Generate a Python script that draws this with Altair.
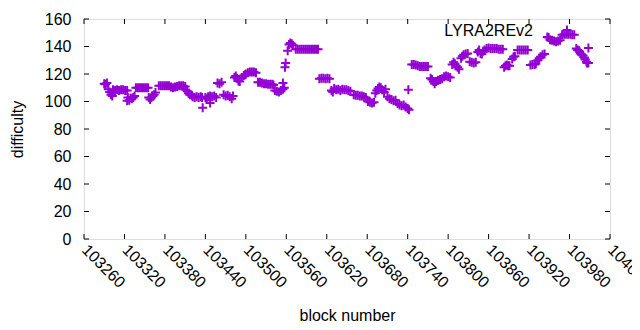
import altair as alt
import pandas as pd

# block numbers and difficulty of the LYRA2REv2 blocks
blocks = [
    103290, 103292, 103294, 103296, 103298, 103300, 103302,
    103303, 103306, 103309, 103312, 103315, 103318, 103321, 103324,
    103324, 103325, 103327, 103329, 103331, 103333, 103335,
    103337, 103340, 103343, 103346, 103349, 103352, 103355,
    103356, 103358, 103360, 103362, 103364, 103366,
    103371, 103374, 103377, 103380, 103383, 103386, 103389, 103392, 103395, 103398, 103401, 103404, 103407, 103410,
    103411, 103413, 103415, 103417, 103420,
    103421, 103424, 103427, 103430, 103433, 103435, 103436,
    103440, 103442, 103444, 103447, 103450, 103453, 103456, 103447,
    103458, 103461, 103464,
    103467, 103470, 103473, 103476, 103479, 103481,
    103483, 103485, 103487, 103489, 103491, 103494, 103497, 103499,
    103500, 103503, 103506, 103509, 103512, 103515,
    103518, 103521, 103524, 103527, 103530, 103533, 103536, 103539, 103541,
    103543, 103546, 103549, 103552, 103555, 103557, 103555,
    103558, 103559, 103562,
    103564, 103566, 103568, 103570,
    103574, 103577, 103580, 103583, 103586, 103589, 103592, 103595, 103598, 103601, 103604, 103607,
    103609, 103612, 103615, 103618, 103621, 103624,
    103627, 103629, 103631, 103634, 103637, 103640, 103643, 103646, 103649, 103652, 103655,
    103660, 103663, 103666, 103669, 103672, 103675, 103678,
    103681, 103684, 103687, 103690,
    103692, 103694, 103696, 103698, 103700, 103702, 103705, 103707,
    103710, 103713, 103716, 103719, 103722,
    103725, 103728, 103731, 103734, 103737, 103740, 103742, 103741,
    103746, 103749, 103752, 103755, 103758, 103761, 103764, 103767, 103770,
    103774, 103776, 103778, 103780, 103782, 103785, 103788, 103791, 103794, 103797, 103800, 103803,
    103806, 103808, 103810, 103812, 103814, 103816,
    103819, 103821, 103823, 103826, 103829,
    103832, 103835, 103838, 103841,
    103844, 103846, 103848, 103850, 103852, 103854,
    103857, 103860, 103863, 103866, 103869, 103872, 103875, 103878, 103881,
    103883, 103885, 103887, 103889, 103891,
    103895, 103897, 103899,
    103903, 103906, 103909, 103912, 103915, 103918,
    103922, 103925, 103928, 103930,
    103933, 103935, 103937, 103940, 103943,
    103947, 103949, 103951, 103954, 103957, 103960, 103963, 103966,
    103969, 103972, 103975, 103978, 103981, 103984, 103987,
    103990, 103992, 103994,
    103996, 103998, 104000, 104002,
    104003, 104005, 104006, 104008, 104008,
]
difficulty = [
    113, 112.5, 113.5, 109, 107, 105, 104,
    108.5, 108, 108.5, 108, 108.5, 108.5, 108, 108,
    100.5, 103, 101, 102.5, 102, 103, 104,
    110, 110, 110, 110, 110, 110, 110,
    103, 101.5, 103, 104, 105, 106.5,
    111.5, 111.5, 111.5, 111.5, 111.5, 111.5, 110.5, 110, 110.5, 111, 111.5, 111.5, 111.5, 111,
    108.5, 107.5, 106, 105, 104.5,
    103.5, 103, 103.5, 103, 103.5, 103, 95.5,
    103, 102, 103.5, 104, 103.5, 104, 103, 99,
    113.5, 113, 114,
    105, 104, 104.5, 103.5, 102, 104,
    117.5, 118.5, 117, 115, 114.5, 117.5, 119, 119.5,
    120, 121, 121.5, 121.5, 121.5, 121,
    114, 114, 113.5, 113, 113, 112.5, 112.5, 112.5, 112,
    108, 107.5, 107, 108, 109, 110, 113.5,
    125, 128, 137,
    141.5, 142.5, 142, 141,
    138, 138, 138, 138, 138, 138, 138, 138, 138, 138, 138, 138,
    116.5, 117, 117, 116.5, 117, 116.5,
    108, 107, 109.5, 108.5, 109, 108, 109, 108.5, 108.5, 108, 107.5,
    105, 104.5, 104.5, 104, 104, 103.5, 103,
    100, 99.5, 99, 99.5,
    106, 108, 109.5, 110.5, 110, 108.5, 107, 109,
    103.5, 102, 101.5, 100.5, 101,
    98.5, 97.5, 97, 97.5, 96, 95, 94, 108.5,
    127, 127, 126.5, 126, 125.5, 125.5, 125.5, 125.5, 125.5,
    117, 116, 114.5, 113, 114.5, 115.5, 116, 116.5, 118, 118.5, 118, 117.5,
    127, 128.5, 127.5, 126, 125, 123.5,
    131.5, 133, 134, 134.5, 135,
    129, 128.5, 128, 128.5,
    136, 137.5, 135, 134.5, 136.5, 137.5,
    138.5, 139, 138.5, 138.5, 138.5, 138.5, 138, 138, 138,
    125, 126, 126.5, 126, 126,
    131, 132.5, 133,
    137.5, 137.5, 137.5, 137.5, 137.5, 137.5,
    126.5, 127, 127, 127.5,
    130, 131.5, 132.5, 134, 134.5,
    147, 146.5, 145, 144.5, 144, 143.5, 144, 144.5,
    148.5, 149, 149, 149, 149, 148.5, 148.5,
    138.5, 137.5, 137,
    135, 134, 133.5, 132,
    130.5, 129, 128, 139, 128,
]

y_ticks = [0, 20, 40, 60, 80, 100, 120, 140, 160]
x_ticks = [103260, 103320, 103380, 103440, 103500, 103560, 103620,
           103680, 103740, 103800, 103860, 103920, 103980, 104040]
series_name = "LYRA2REv2"

COLOR = "#9400D3"
FONT = "Liberation Sans"
FS = 16
W, H = 526, 220
PLUS = "M-1,0L1,0M0,-1L0,1"

df = pd.DataFrame({"block": blocks, "difficulty": difficulty})
xs = alt.Scale(domain=[x_ticks[0], x_ticks[-1]], nice=False, zero=False)
ys = alt.Scale(domain=[y_ticks[0], y_ticks[-1]], nice=False)

x_axis = alt.Axis(
    values=x_ticks, format="d", labelAngle=45, labelAlign="left",
    labelBaseline="middle", labelPadding=8, labelFontSize=FS, labelFont=FONT,
    labelColor="black", ticks=False, tickSize=0, domain=False, grid=False,
    title="block number", titleFont=FONT, titleFontSize=FS, titleFontWeight="normal",
    titleColor="black", titleX=W / 2, titleY=76, titleAlign="center",
    titleBaseline="middle", labelOverlap=False, labelFlush=False)
y_axis = alt.Axis(
    values=y_ticks, labelPadding=13, labelFontSize=FS, labelFont=FONT,
    labelColor="black", ticks=False, tickSize=0, domain=False, grid=False,
    title="difficulty", titleFont=FONT, titleFontSize=FS, titleFontWeight="normal",
    titleColor="black", titleX=-67, titleY=H / 2, titleAngle=-90,
    titleAlign="center", titleBaseline="middle", labelOverlap=False,
    labelFlush=False)

points = alt.Chart(df).mark_point(
    shape=PLUS, size=81, filled=False, color=COLOR, strokeWidth=2, opacity=1
).encode(
    x=alt.X("block:Q", scale=xs, axis=x_axis),
    y=alt.Y("difficulty:Q", scale=ys, axis=y_axis),
)

ydf = pd.DataFrame({"v": y_ticks})
xdf = pd.DataFrame({"v": x_ticks})
tl = 5
left_t = alt.Chart(ydf).mark_rule(color="black", strokeWidth=1).encode(
    y=alt.Y("v:Q", scale=ys, axis=y_axis), x=alt.value(0), x2=alt.value(tl))
right_t = alt.Chart(ydf).mark_rule(color="black", strokeWidth=1).encode(
    y=alt.Y("v:Q", scale=ys, axis=y_axis), x=alt.value(W - tl), x2=alt.value(W))
bot_t = alt.Chart(xdf).mark_rule(color="black", strokeWidth=1).encode(
    x=alt.X("v:Q", scale=xs, axis=x_axis), y=alt.value(H), y2=alt.value(H - tl))
top_t = alt.Chart(xdf).mark_rule(color="black", strokeWidth=1).encode(
    x=alt.X("v:Q", scale=xs, axis=x_axis), y=alt.value(0), y2=alt.value(tl))

kdf = pd.DataFrame({"name": [series_name]})
key_text = alt.Chart(kdf).mark_text(
    align="right", baseline="middle", font=FONT, fontSize=FS, color="black"
).encode(text="name:N", x=alt.value(449), y=alt.value(12))
key_pt = alt.Chart(kdf).mark_point(
    shape=PLUS, size=81, filled=False, color=COLOR, strokeWidth=2, opacity=1
).encode(x=alt.value(483), y=alt.value(11))

chart = alt.layer(points, left_t, right_t, bot_t, top_t, key_text, key_pt).properties(
    width=W, height=H,
    autosize=alt.AutoSizeParams(type="none"),
    padding={"left": 76, "top": 11, "right": 22, "bottom": 85},
).configure_view(stroke="black", strokeWidth=1).configure(background="white")

chart.save("out.html", embed_options={"renderer": "svg", "actions": False})
